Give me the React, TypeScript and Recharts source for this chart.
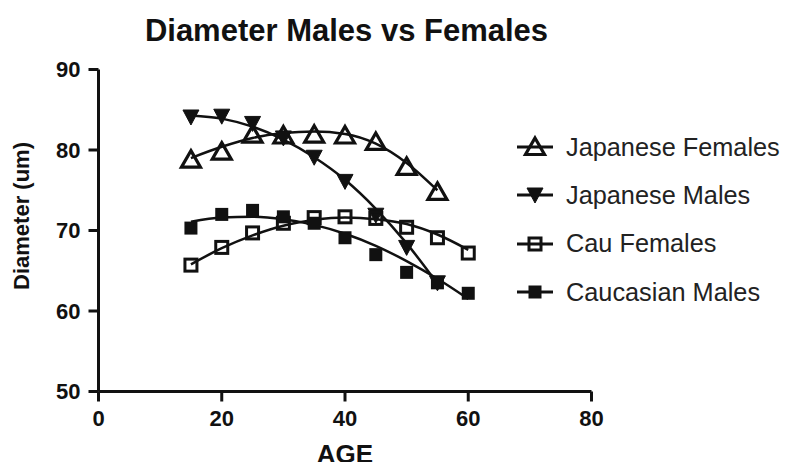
import React from 'react';
import { ComposedChart, Line, Scatter, XAxis, YAxis } from 'recharts';

// Measured points
const agesJapanese = [15, 20, 25, 30, 35, 40, 45, 50, 55];
const agesCaucasian = [15, 20, 25, 30, 35, 40, 45, 50, 55, 60];

const japaneseFemales = [78.8, 79.8, 81.9, 81.8, 81.9, 81.8, 81.0, 77.9, 74.8];
const japaneseMales = [84.1, 84.2, 83.3, 81.5, 79.1, 76.1, 71.9, 67.9, 63.5];
const cauFemales = [65.7, 67.9, 69.7, 70.9, 71.6, 71.7, 71.5, 70.4, 69.1, 67.2];
const caucasianMales = [70.3, 72.0, 72.5, 71.7, 70.9, 69.1, 67.0, 64.8, 63.5, 62.2];

// Fitted curves
const fitJapaneseFemales = [79.0, 80.4, 81.5, 82.1, 82.3, 82.0, 80.8, 78.4, 75.0];
const fitJapaneseMales = [84.3, 83.9, 82.9, 81.3, 79.1, 76.3, 72.7, 68.4, 63.4];
const fitCauFemales = [65.8, 67.8, 69.4, 70.6, 71.3, 71.6, 71.4, 70.8, 69.5, 67.6];
const fitCaucasianMales = [71.1, 71.6, 71.7, 71.4, 70.7, 69.6, 68.1, 66.2, 64.0, 61.5];

const xTicks = [0, 20, 40, 60, 80];
const yTicks = [50, 60, 70, 80, 90];

const seriesNames = ['Japanese Females', 'Japanese Males', 'Cau Females', 'Caucasian Males'];

const toPts = (xs: number[], ys: number[]) => xs.map((x, i) => ({ x, y: ys[i] }));

const INK = '#111';

const TriUp = (props: any) => {
  const { cx, cy } = props;
  if (cx == null || cy == null) return null;
  return (
    <path
      d={`M${cx},${cy - 9} L${cx + 9.5},${cy + 7.5} L${cx - 9.5},${cy + 7.5} Z`}
      fill="none"
      stroke={INK}
      strokeWidth={3.2}
      strokeLinejoin="miter"
    />
  );
};
const TriDown = (props: any) => {
  const { cx, cy } = props;
  if (cx == null || cy == null) return null;
  return <path d={`M${cx - 8},${cy - 7} L${cx + 8},${cy - 7} L${cx},${cy + 8} Z`} fill={INK} stroke={INK} strokeWidth={1} />;
};
const SqOpen = (props: any) => {
  const { cx, cy } = props;
  if (cx == null || cy == null) return null;
  return <rect x={cx - 6} y={cy - 6} width={12} height={12} fill="none" stroke={INK} strokeWidth={3} />;
};
const SqFill = (props: any) => {
  const { cx, cy } = props;
  if (cx == null || cy == null) return null;
  return <rect x={cx - 6.5} y={cy - 6.5} width={13} height={13} fill={INK} />;
};

const shapes = [TriUp, TriDown, SqOpen, SqFill];

const LegendIcon = ({ i }: { i: number }) => {
  const Shape = shapes[i];
  return (
    <svg width={40} height={30} style={{ display: 'block', flexShrink: 0 }}>
      <line x1={2} y1={15} x2={38} y2={15} stroke={INK} strokeWidth={3} />
      <Shape cx={20} cy={15} />
    </svg>
  );
};

export default function App() {
  const font = '"Liberation Sans", Arial, Helvetica, sans-serif';
  return (
    <div style={{ position: 'relative', width: 775, height: 462, marginBottom: -8, fontFamily: font }}>
      <div
        style={{
          position: 'absolute',
          left: 0,
          width: 677,
          top: 6,
          textAlign: 'center',
          fontSize: 31,
          fontWeight: 'bold',
          color: INK,
          lineHeight: '34px',
        }}
      >
        Diameter Males vs Females
      </div>
      <div
        style={{
          position: 'absolute',
          left: 14,
          top: 208,
          width: 0,
          height: 0,
        }}
      >
        <div
          style={{
            position: 'absolute',
            transform: 'translate(-50%, -50%) rotate(-90deg)',
            whiteSpace: 'nowrap',
            fontSize: 22,
            fontWeight: 'bold',
            color: INK,
          }}
        >
          Diameter (um)
        </div>
      </div>
      <div
        style={{
          position: 'absolute',
          left: 237,
          width: 200,
          top: 432,
          height: 29,
          textAlign: 'center',
          fontSize: 26,
          fontWeight: 'bold',
          color: INK,
          lineHeight: '29px',
        }}
      >
        AGE
      </div>
      <div style={{ position: 'absolute', left: 507, top: 115, width: 268 }}>
        {seriesNames.map((n, i) => (
          <div key={n} style={{ display: 'flex', alignItems: 'center', height: 48.3 }}>
            <LegendIcon i={i} />
            <span style={{ marginLeft: 11, fontSize: 25.3, color: '#222', whiteSpace: 'nowrap' }}>{n}</span>
          </div>
        ))}
      </div>
      <ComposedChart
        width={775}
        height={462}
        margin={{ top: 61.5, right: 191.5, bottom: 0, left: 0 }}
        style={{ position: 'absolute', left: 0, top: 0 }}
      >
        <XAxis
          dataKey="x"
          type="number"
          domain={[0, 80]}
          ticks={xTicks}
          height={78.5}
          tickSize={10}
          tickMargin={9}
          axisLine={{ stroke: INK, strokeWidth: 3 }}
          tickLine={{ stroke: INK, strokeWidth: 3 }}
          tick={{ fill: INK, fontSize: 22, fontWeight: 'bold', fontFamily: font }}
          allowDuplicatedCategory={false}
        />
        <YAxis
          dataKey="y"
          type="number"
          domain={[50, 90]}
          ticks={yTicks}
          width={90.5}
          tickSize={10}
          tickMargin={8}
          axisLine={{ stroke: INK, strokeWidth: 3 }}
          tickLine={{ stroke: INK, strokeWidth: 3 }}
          tick={{ fill: INK, fontSize: 22, fontWeight: 'bold', fontFamily: font }}
        />
        <Line data={toPts(agesJapanese, fitJapaneseFemales)} dataKey="y" type="monotone" stroke={INK} strokeWidth={2.5} dot={false} activeDot={false} isAnimationActive={false} />
        <Line data={toPts(agesJapanese, fitJapaneseMales)} dataKey="y" type="monotone" stroke={INK} strokeWidth={2.5} dot={false} activeDot={false} isAnimationActive={false} />
        <Line data={toPts(agesCaucasian, fitCauFemales)} dataKey="y" type="monotone" stroke={INK} strokeWidth={2.5} dot={false} activeDot={false} isAnimationActive={false} />
        <Line data={toPts(agesCaucasian, fitCaucasianMales)} dataKey="y" type="monotone" stroke={INK} strokeWidth={2.5} dot={false} activeDot={false} isAnimationActive={false} />
        <Scatter data={toPts(agesJapanese, japaneseFemales)} dataKey="y" shape={TriUp} isAnimationActive={false} />
        <Scatter data={toPts(agesJapanese, japaneseMales)} dataKey="y" shape={TriDown} isAnimationActive={false} />
        <Scatter data={toPts(agesCaucasian, cauFemales)} dataKey="y" shape={SqOpen} isAnimationActive={false} />
        <Scatter data={toPts(agesCaucasian, caucasianMales)} dataKey="y" shape={SqFill} isAnimationActive={false} />
      </ComposedChart>
    </div>
  );
}
